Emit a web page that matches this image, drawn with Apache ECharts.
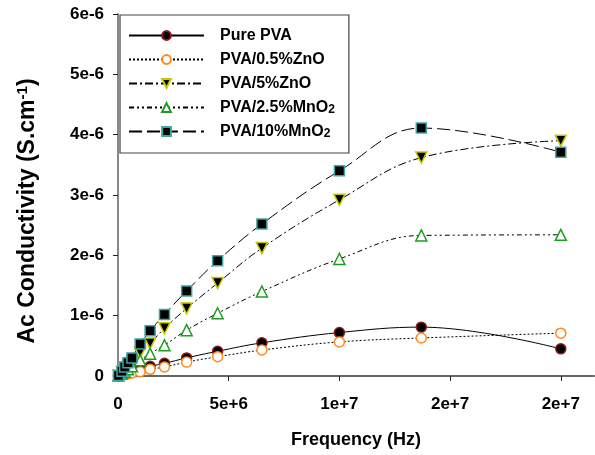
<!DOCTYPE html>
<html>
<head>
<meta charset="utf-8">
<script src="https://cdn.jsdelivr.net/npm/echarts@6/dist/echarts.min.js"></script>
<style>
  html, body { margin: 0; padding: 0; background: #fff; }
  #chart { width: 595px; height: 455px; }
</style>
</head>
<body>
<div id="chart"></div>
<script>
// frequency (Hz) shared by all samples
const freq = [2e4, 1.8e5, 3e5, 4.5e5, 6.3e5, 1e6, 1.45e6, 2.1e6, 3.1e6, 4.5e6, 6.5e6, 1e7, 1.37e7, 2e7];

// ac conductivity, in units of 1e-6 S/cm
const purePVA = [0.005, 0.03, 0.05, 0.06, 0.08, 0.12, 0.16, 0.21, 0.30, 0.41, 0.55, 0.72, 0.81, 0.45];
const zno05 = [0.003, 0.02, 0.03, 0.04, 0.05, 0.07, 0.11, 0.15, 0.23, 0.32, 0.43, 0.565, 0.63, 0.71];
const zno5 = [0.01, 0.06, 0.11, 0.17, 0.23, 0.39, 0.54, 0.79, 1.12, 1.54, 2.12, 2.92, 3.62, 3.90];
const mno25 = [0.01, 0.04, 0.07, 0.11, 0.16, 0.26, 0.37, 0.51, 0.76, 1.04, 1.40, 1.94, 2.33, 2.34];
const mno10 = [0.01, 0.08, 0.15, 0.22, 0.30, 0.53, 0.75, 1.02, 1.41, 1.91, 2.52, 3.40, 4.11, 3.71];

const xTicks = [0, 5e6, 1e7, 1.5e7, 2e7];

const font = "'Liberation Sans', Arial, sans-serif";

const pairs = (vals) => vals.map((v, i) => [freq[i], v * 1e-6]);

const makeSeries = (name, vals, dash, symbol, size, fill, border, rotate = 0) => ({
  name: name,
  type: "line",
  data: pairs(vals),
  smooth: 0.4,
  symbol: symbol,
  symbolSize: size,
  symbolRotate: rotate,
  showSymbol: true,
  lineStyle: { color: "#000", width: 1, type: dash },
  itemStyle: { color: fill, borderColor: border, borderWidth: 1.5 },
  emphasis: { disabled: true },
});

const myChart = echarts.init(document.getElementById("chart"));

myChart.setOption({
  animation: false,
  grid: { left: 118, right: 1, top: 14, bottom: 79 },
  legend: {
    orient: "vertical",
    left: 120,
    top: 15,
    padding: [12, 14, 13, 8],
    itemWidth: 75,
    itemHeight: 11,
    itemGap: 7,
    borderColor: "#444",
    borderWidth: 1.2,
    backgroundColor: "#fff",
    formatter: (name) => name.replace(/O2$/, "O{sub|2}"),
    textStyle: {
      fontFamily: font,
      fontWeight: "bold",
      fontSize: 16,
      color: "#000",
      padding: [0, 0, 0, 11],
      lineHeight: 17,
      rich: {
        sub: { fontFamily: font, fontWeight: "bold", fontSize: 12, verticalAlign: "bottom", padding: [8, 0, 0, 0], color: "#000" },
      },
    },
  },
  xAxis: {
    type: "value",
    min: 0,
    max: 2.15e7,
    name: "Frequency (Hz)",
    nameLocation: "middle",
    nameGap: 55,
    nameTextStyle: { fontFamily: font, fontWeight: "bold", fontSize: 18, color: "#000" },
    splitLine: { show: false },
    axisLine: { lineStyle: { color: "#666", width: 2 } },
    axisTick: { customValues: xTicks, length: 5, lineStyle: { color: "#222", width: 1 } },
    axisLabel: {
      customValues: xTicks,
      margin: 20,
      fontFamily: font,
      fontWeight: "bold",
      fontSize: 17,
      color: "#000",
      formatter: (v) => (v === 0 ? "0" : v.toExponential(0)),
    },
  },
  yAxis: {
    type: "value",
    min: 0,
    max: 6e-6,
    interval: 1e-6,
    name: "Ac Conductivity (S.cm{sup|-1})",
    nameLocation: "middle",
    nameGap: 78,
    nameTextStyle: {
      fontFamily: font,
      fontWeight: "bold",
      fontSize: 23,
      color: "#000",
      padding: [0, 32, 0, 0],
      rich: {
        sup: { fontFamily: font, fontWeight: "bold", fontSize: 15, verticalAlign: "top", padding: [0, 0, 10, 0], color: "#000" },
      },
    },
    splitLine: { show: false },
    axisLine: { show: true, lineStyle: { color: "#888", width: 2 } },
    axisTick: { show: true, length: 5, lineStyle: { color: "#222", width: 1 } },
    axisLabel: {
      margin: 14,
      fontFamily: font,
      fontWeight: "bold",
      fontSize: 17,
      color: "#000",
      formatter: (v) => (v === 0 ? "0" : v.toExponential(0)),
    },
  },
  series: [
    makeSeries("Pure PVA", purePVA, "solid", "circle", 10, "#000", "#8b1a1a"),
    makeSeries("PVA/0.5%ZnO", zno05, [2, 2], "circle", 10, "#fff", "#ff8a1c"),
    makeSeries("PVA/5%ZnO", zno5, [8, 3, 2, 3], "triangle", 11, "#000", "#c8c800", 180),
    makeSeries("PVA/2.5%MnO2", mno25, [5, 3, 2, 3, 2, 3], "triangle", 11, "#fff", "#1e9e1e"),
    makeSeries("PVA/10%MnO2", mno10, [13, 5], "rect", 10, "#000", "#3aa6a6"),
  ],
});
</script>
</body>
</html>
